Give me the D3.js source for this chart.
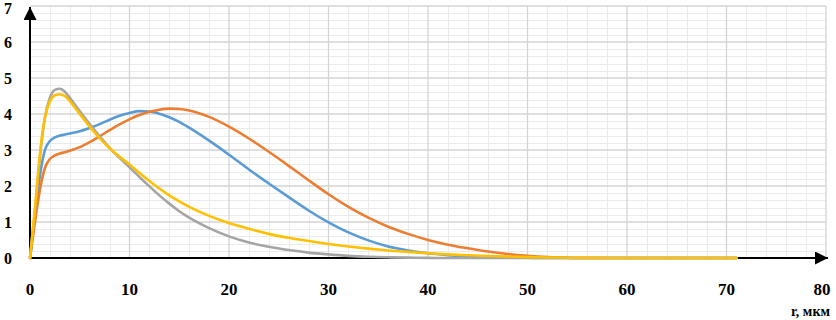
<!DOCTYPE html>
<html>
<head>
<meta charset="utf-8">
<script src="https://cdn.jsdelivr.net/npm/d3@7"></script>
<style>
  html, body { margin: 0; padding: 0; background: #fff; }
  #chart { width: 836px; height: 320px; }
  text { font-family: "Liberation Serif", "Times New Roman", serif; font-weight: bold; }
</style>
</head>
<body>
<div id="chart"></div>
<script>
// r, мкм — shared x positions for every series
const rs = [0, 0.5, 1, 1.5, 2, 2.5, 3, 3.5, 4,
  5, 6, 7, 8, 9, 10, 11, 12, 13, 14, 15, 16,
  18, 20, 22, 24, 26, 28, 30, 32, 34, 36, 38, 40, 42, 44, 46, 48, 50, 52, 54, 56,
  60, 65, 71];

const blue = [0, 1.2, 2.3, 3.0, 3.25, 3.35, 3.4, 3.43, 3.46,
  3.52, 3.61, 3.72, 3.84, 3.95, 4.03, 4.08, 4.07, 4.01, 3.91, 3.78, 3.62,
  3.26, 2.87, 2.46, 2.07, 1.69, 1.32, 0.99, 0.71, 0.49, 0.32, 0.21, 0.13, 0.08, 0.045, 0.025, 0.012, 0.005, 0, 0, 0,
  0, 0, 0];
const orange = [0, 1.0, 1.9, 2.5, 2.75, 2.85, 2.9, 2.94, 2.98,
  3.08, 3.22, 3.38, 3.55, 3.71, 3.85, 3.97, 4.06, 4.12, 4.15, 4.14, 4.1,
  3.92, 3.65, 3.32, 2.95, 2.56, 2.16, 1.77, 1.42, 1.12, 0.87, 0.67, 0.5, 0.37, 0.27, 0.18, 0.11, 0.06, 0.025, 0.008, 0,
  0, 0, 0];
const gray = [0, 1.3, 2.8, 3.9, 4.45, 4.67, 4.7, 4.62, 4.45,
  4.08, 3.72, 3.38, 3.06, 2.78, 2.52, 2.25, 1.99, 1.74, 1.51, 1.3, 1.12,
  0.83, 0.6, 0.43, 0.31, 0.22, 0.15, 0.1, 0.06, 0.035, 0.02, 0.01, 0.004, 0, 0, 0, 0, 0, 0, 0, 0,
  0, 0, 0];
const yellow = [0, 1.4, 2.9, 3.9, 4.35, 4.52, 4.55, 4.5, 4.36,
  4.0, 3.65, 3.33, 3.05, 2.81, 2.6, 2.36, 2.14, 1.93, 1.74, 1.57, 1.42,
  1.17, 0.97, 0.81, 0.67, 0.56, 0.47, 0.39, 0.32, 0.26, 0.21, 0.17, 0.13, 0.1, 0.075, 0.055, 0.04, 0.025, 0.015, 0.008, 0.003,
  0, 0, 0];

const seriesList = [
  { name: "1", values: blue,   color: "#5b9bd5" },
  { name: "2", values: orange, color: "#ed7d31" },
  { name: "3", values: gray,   color: "#a5a5a5" },
  { name: "4", values: yellow, color: "#ffc000" },
];

const xTicks = [0, 10, 20, 30, 40, 50, 60, 70, 80];
const yTicks = [0, 1, 2, 3, 4, 5, 6, 7];
const xLabel = "r, мкм";

(function () {
  const W = 836, H = 320;
  const svg = d3.select("#chart").append("svg")
    .attr("width", W).attr("height", H);

  const x = d3.scaleLinear().domain([0, 80]).range([30, 826]);
  const y = d3.scaleLinear().domain([0, 7]).range([258, 6]);

  // minor grid
  const gMinor = svg.append("g").attr("stroke", "#ebebeb").attr("stroke-width", 1);
  gMinor.selectAll("line.vx").data(d3.range(2, 80, 2).filter(v => v % 10 !== 0)).enter().append("line")
    .attr("x1", d => Math.round(x(d)) + 0.5).attr("x2", d => Math.round(x(d)) + 0.5)
    .attr("y1", y(7)).attr("y2", y(0));
  gMinor.selectAll("line.hy").data(d3.range(1, 35).map(i => i * 0.2).filter(v => Math.abs(v - Math.round(v)) > 1e-6)).enter().append("line")
    .attr("x1", x(0)).attr("x2", x(80))
    .attr("y1", d => Math.round(y(d)) + 0.5).attr("y2", d => Math.round(y(d)) + 0.5);

  // major grid
  const gMajor = svg.append("g").attr("stroke", "#d4d4d4").attr("stroke-width", 1.3);
  gMajor.selectAll("line.v").data(xTicks.slice(1)).enter().append("line")
    .attr("x1", d => x(d)).attr("x2", d => x(d))
    .attr("y1", y(7)).attr("y2", y(0));
  gMajor.selectAll("line.h").data(yTicks.slice(1)).enter().append("line")
    .attr("x1", x(0)).attr("x2", x(80))
    .attr("y1", d => y(d)).attr("y2", d => y(d));

  // curves
  const line = d3.line()
    .x((d, i) => x(rs[i]))
    .y(d => y(d))
    .curve(d3.curveMonotoneX);

  // axes (black with arrows)
  const defs = svg.append("defs");
  defs.append("marker")
    .attr("id", "arr").attr("viewBox", "0 -5 10 10")
    .attr("refX", 10).attr("refY", 0)
    .attr("markerUnits", "userSpaceOnUse")
    .attr("markerWidth", 14).attr("markerHeight", 13).attr("orient", "auto")
    .append("path").attr("d", "M0,-5L10,0L0,5Z").attr("fill", "#000");

  svg.append("line")
    .attr("x1", x(0)).attr("x2", 828).attr("y1", y(0)).attr("y2", y(0))
    .attr("stroke", "#000").attr("stroke-width", 2)
    .attr("marker-end", "url(#arr)");
  svg.append("line")
    .attr("x1", x(0)).attr("x2", x(0)).attr("y1", y(0)).attr("y2", 7)
    .attr("stroke", "#000").attr("stroke-width", 2)
    .attr("marker-end", "url(#arr)");

  svg.append("g").selectAll("path").data(seriesList).enter().append("path")
    .attr("d", d => line(d.values))
    .attr("fill", "none")
    .attr("stroke", d => d.color)
    .attr("stroke-width", 2.6)
    .attr("stroke-linejoin", "round").attr("stroke-linecap", "round");

  // tick labels
  svg.append("g").selectAll("text").data(yTicks).enter().append("text")
    .attr("x", 8).attr("y", d => Math.max(y(d) + 6, 14))
    .attr("text-anchor", "middle")
    .style("font-size", "16px").style("fill", "#000")
    .text(d => d);

  svg.append("g").selectAll("text").data(xTicks).enter().append("text")
    .attr("x", d => x(d) + (d === 80 ? -4 : 0)).attr("y", 295)
    .attr("text-anchor", "middle")
    .style("font-size", "17px").style("fill", "#000")
    .text(d => d);

  svg.append("text")
    .attr("x", 830).attr("y", 316).attr("text-anchor", "end")
    .style("font-size", "14px").style("fill", "#000")
    .text(xLabel);
})();
</script>
</body>
</html>
